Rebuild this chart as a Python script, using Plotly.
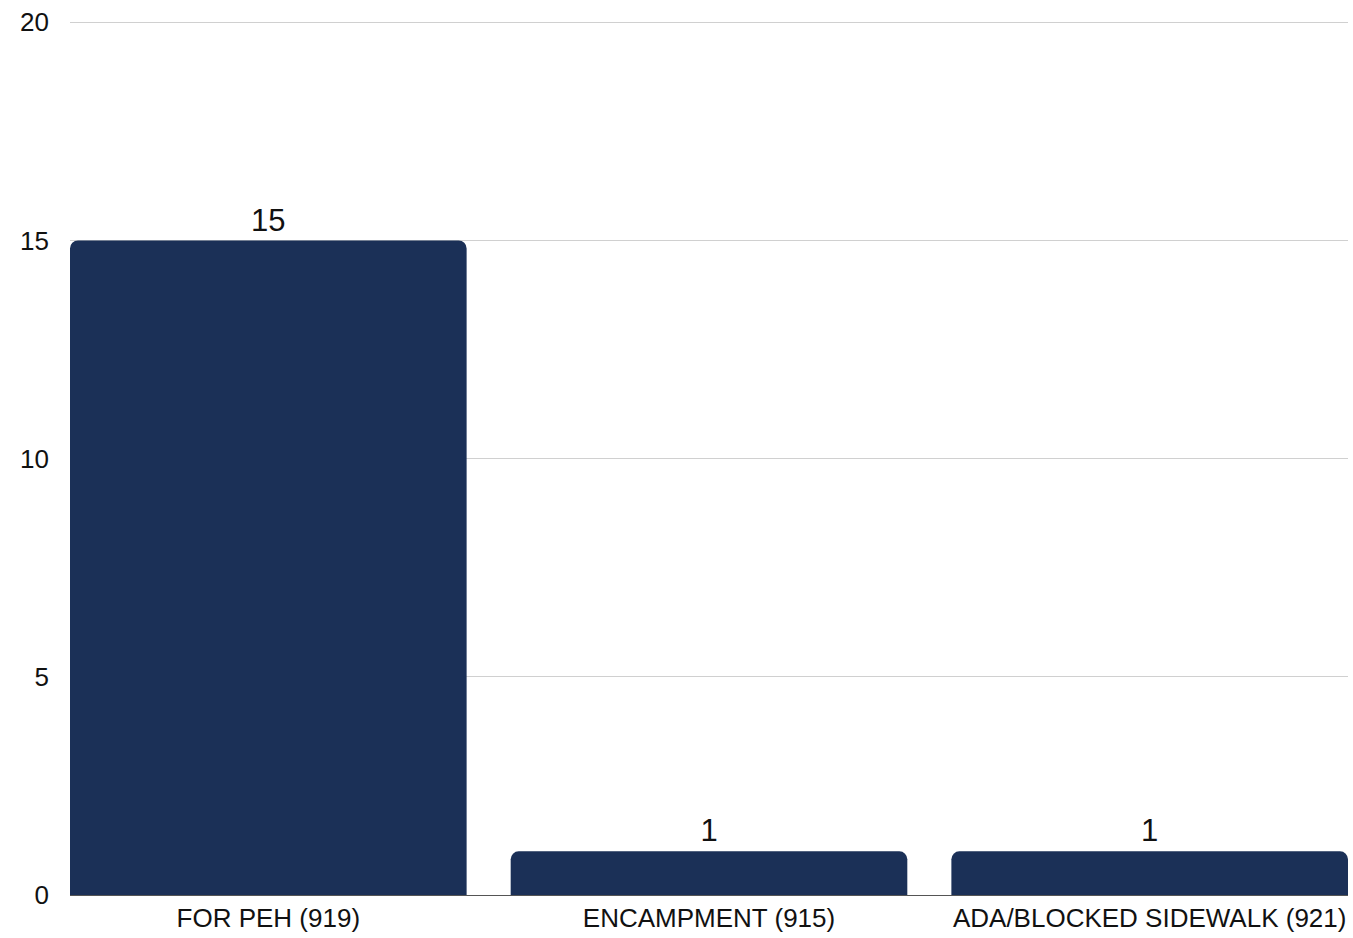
import plotly.graph_objects as go

categories = ["FOR PEH (919)", "ENCAMPMENT (915)", "ADA/BLOCKED SIDEWALK (921)"]
values = [15, 1, 1]
tick_vals = [0, 5, 10, 15, 20]

fig = go.Figure(
    go.Bar(
        x=categories,
        y=values,
        width=0.9,
        marker=dict(color="#1B3057", cornerradius=8, line=dict(width=0)),
        text=[str(v) for v in values],
        textposition="outside",
        textfont=dict(size=31, color="#111111", family="Liberation Sans, Arial"),
        cliponaxis=False,
    )
)

fig.update_layout(
    width=1353,
    height=938,
    margin=dict(l=70, r=5, t=18, b=43, autoexpand=False),
    paper_bgcolor="white",
    plot_bgcolor="white",
    font=dict(family="Liberation Sans, Arial", size=26, color="#111111"),
    showlegend=False,
)
fig.update_xaxes(
    range=[-0.45, 2.45],
    automargin=False,
    showgrid=False,
    showline=True,
    linecolor="#555555",
    linewidth=1,
    ticks="",
    ticklabelstandoff=0,
    tickfont=dict(size=26),
)
fig.update_yaxes(
    range=[0, 20.1],
    automargin=False,
    tickvals=tick_vals,
    showgrid=True,
    gridcolor="#D0D0D0",
    gridwidth=1,
    zeroline=False,
    showline=False,
    ticks="",
    ticklabelstandoff=20,
    tickfont=dict(size=26),
)

fig.write_html("out.html")
